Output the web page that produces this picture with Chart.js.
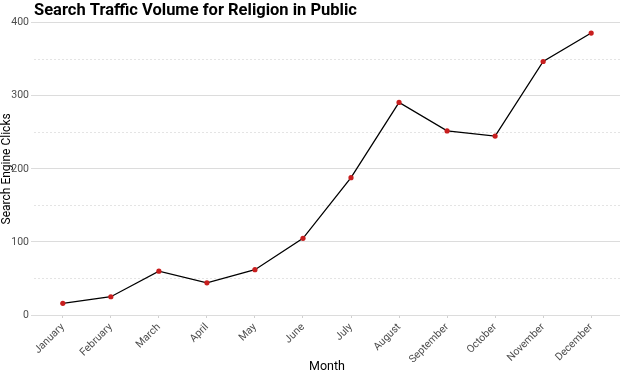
<!DOCTYPE html>
<html>
<head>
<meta charset="utf-8">
<script src="https://cdn.jsdelivr.net/npm/chart.js@4"></script>
<style>
  html, body { margin: 0; padding: 0; background: #fff; }
  #wrap { width: 624px; height: 374px; }
</style>
</head>
<body>
<div id="wrap"><canvas id="chart" width="624" height="374"></canvas></div>
<script>
// search traffic by month
const months = ['January','February','March','April','May','June','July','August','September','October','November','December'];
const clicks = [16, 25, 60, 44, 62, 105, 188, 291, 252, 245, 347, 386];
const yMajor = [0, 100, 200, 300, 400];
const yMinor = [50, 150, 250, 350];

const txt = '#4d4d4d';
const fam = 'Roboto, "Noto Sans", sans-serif';

const minorGrid = {
  id: 'minorGrid',
  beforeDatasetsDraw(chart) {
    const { ctx, chartArea: a, scales: { y } } = chart;
    ctx.save();
    ctx.strokeStyle = '#e4e4e4';
    ctx.lineWidth = 1;
    ctx.setLineDash([2, 2]);
    yMinor.forEach(v => {
      const py = Math.round(y.getPixelForValue(v)) + 0.5;
      ctx.beginPath(); ctx.moveTo(a.left, py); ctx.lineTo(a.right, py); ctx.stroke();
    });
    ctx.restore();
  }
};

new Chart(document.getElementById('chart').getContext('2d'), {
  type: 'line',
  data: {
    datasets: [{
      data: clicks.map((v, i) => ({ x: i, y: v })),
      borderColor: '#000', borderWidth: 1.3, tension: 0,
      pointBackgroundColor: '#c81e1e', pointBorderColor: '#c81e1e',
      pointRadius: 2.6, pointBorderWidth: 0
    }]
  },
  plugins: [minorGrid],
  options: {
    responsive: false, animation: false,
    layout: { padding: { left: 0, right: 2, top: 0, bottom: 0 } },
    plugins: {
      legend: { display: false },
      tooltip: { enabled: false },
      title: {
        display: true, text: 'Search Traffic Volume for Religion in Public',
        align: 'start', fullSize: false, color: '#000',
        font: { family: fam, size: 16.5, weight: 'bold' },
        padding: { top: 1, bottom: 2 }
      }
    },
    scales: {
      x: {
        type: 'linear', min: -0.6, max: 11.6,
        afterBuildTicks: s => { s.ticks = months.map((m, i) => ({ value: i })); },
        afterFit: s => { s.height = 59; },
        ticks: {
          color: txt, font: { family: fam, size: 10.5 },
          minRotation: 45, maxRotation: 45, padding: 3,
          callback: v => months[v]
        },
        grid: { drawOnChartArea: false, drawTicks: true, tickLength: 3, color: '#d0d0d0' },
        border: { display: false },
        title: { display: true, text: 'Month', color: '#000', font: { family: fam, size: 12.5 }, padding: { top: 0, bottom: 0 } }
      },
      y: {
        min: 0, max: 400,
        afterBuildTicks: s => { s.ticks = yMajor.map(v => ({ value: v })); },
        afterFit: s => { s.width = 34; },
        ticks: { color: txt, font: { family: fam, size: 10.5 }, padding: 2 },
        grid: { color: '#dcdcdc', lineWidth: 1, tickLength: 3 },
        border: { display: false },
        title: { display: true, text: 'Search Engine Clicks', color: '#000', font: { family: fam, size: 12 }, padding: { top: 0, bottom: 1 } }
      }
    }
  }
});
</script>
</body>
</html>
